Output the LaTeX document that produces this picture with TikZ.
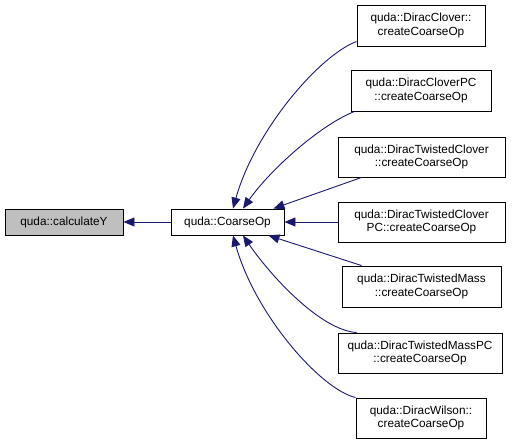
\documentclass[tikz,border=0pt]{standalone}
\usepackage{fontspec}
\setmainfont{Liberation Sans}
\usetikzlibrary{arrows.meta}
\begin{document}
\begin{tikzpicture}[x=1pt,y=-1pt,
  box/.style={draw=black,line width=0.9pt,fill=white,inner sep=0pt,align=center,
    font=\fontsize{11.8}{13.5}\selectfont},
  focus/.style={box,fill=black!25},
  edge/.style={draw=midnightblue,line width=0.9pt,
    {Triangle[length=11pt,width=9pt,fill=midnightblue]}-}]
\definecolor{midnightblue}{HTML}{191970}
\useasboundingbox (0,0) rectangle (516,444);
\node[focus,minimum width=118pt,minimum height=26pt] (calc) at (64,222) {quda::calculateY};
\node[box,minimum width=113pt,minimum height=26pt] (coarse) at (227.5,222) {quda::CoarseOp};
\node[box,minimum width=128pt,minimum height=41pt] (clover) at (421,25.5) {quda::DiracClover::\\createCoarseOp};
\node[box,minimum width=140pt,minimum height=41pt] (cloverpc) at (421,90.5) {quda::DiracCloverPC\\::createCoarseOp};
\node[box,minimum width=167pt,minimum height=40pt] (twc) at (421.5,157) {quda::DiracTwistedClover\\::createCoarseOp};
\node[box,minimum width=167pt,minimum height=40pt] (twcpc) at (421.5,222) {quda::DiracTwistedClover\\PC::createCoarseOp};
\node[box,minimum width=159pt,minimum height=41pt] (twm) at (421.5,286.5) {quda::DiracTwistedMass\\::createCoarseOp};
\node[box,minimum width=164pt,minimum height=40pt] (twmpc) at (420,353) {quda::DiracTwistedMassPC\\::createCoarseOp};
\node[box,minimum width=130pt,minimum height=40pt] (wilson) at (421,418) {quda::DiracWilson::\\createCoarseOp};
\draw[edge] (calc.east) -- (coarse.west);
\draw[edge] ([xshift=5.5pt]coarse.north) .. controls (255,130) and (320,55) .. ([yshift=-16pt]clover.west);
\draw[edge] ([xshift=15.5pt]coarse.north) .. controls (270,170) and (320,125) .. ([xshift=4pt]cloverpc.south west);
\draw[edge] ([xshift=-11pt]coarse.north east) -- ([xshift=24pt]twc.south west);
\draw[edge] (coarse.east) -- (twcpc.west);
\draw[edge] ([xshift=-16pt]coarse.south east) -- ([xshift=20pt]twm.north west);
\draw[edge] ([xshift=15.5pt]coarse.south) .. controls (270,275) and (320,330) .. ([xshift=19pt]twmpc.north west);
\draw[edge] ([xshift=5.5pt]coarse.south) .. controls (255,314) and (320,389) .. (wilson.north west);
\end{tikzpicture}
\end{document}
